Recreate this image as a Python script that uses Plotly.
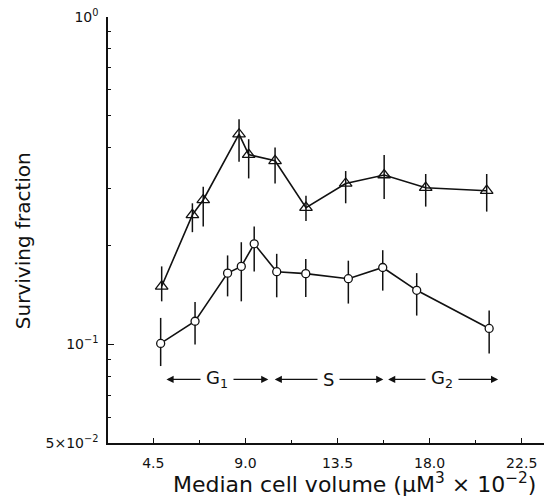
import numpy as np
import plotly.graph_objects as go

# Triangles (upper series)
tri_x = [4.91, 6.41, 6.94, 8.69, 9.16, 10.45, 11.96, 13.90, 15.78, 17.81, 20.79]
tri_y = [0.1505, 0.2487, 0.2762, 0.4386, 0.380, 0.3638, 0.2618, 0.3102, 0.3292, 0.3011, 0.2948]
tri_hi = [0.1731, 0.2698, 0.3032, 0.4873, 0.4234, 0.3994, 0.2847, 0.3385, 0.3786, 0.3315, 0.3315]
tri_lo = [0.1354, 0.2202, 0.2291, 0.3613, 0.3214, 0.3102, 0.2384, 0.2698, 0.2781, 0.2636, 0.2545]

# Circles (lower series)
cir_x = [4.86, 6.54, 8.13, 8.80, 9.43, 10.53, 11.95, 14.03, 15.71, 17.37, 20.91]
cir_y = [0.1007, 0.1177, 0.1651, 0.1731, 0.2029, 0.1668, 0.1645, 0.1588, 0.1718, 0.1463, 0.1119]
cir_hi = [0.1205, 0.1348, 0.1870, 0.2052, 0.2291, 0.1891, 0.1822, 0.1802, 0.1940, 0.1651, 0.1269]
cir_lo = [0.0859, 0.1000, 0.1402, 0.1354, 0.1671, 0.1393, 0.1396, 0.1333, 0.1460, 0.1225, 0.0939]

# Cell-cycle phases: label, start, end (x units)
phase_labels = ["G<sub>1</sub>", "S", "G<sub>2</sub>"]
phase_start = [5.07, 10.36, 15.90]
phase_end = [10.12, 15.74, 21.35]
phase_y = 0.0782

x_tickvals = [4.5, 9.0, 13.5, 18.0, 22.5]
x_ticktext = ["4.5", "9.0", "13.5", "18.0", "22.5"]
x_minor = [6.75, 11.25, 15.75, 20.25]
y_tickvals = [0.05, 0.1, 1.0]
y_ticktext = ["5×10<sup>−2</sup>", "10<sup>−1</sup>", "10<sup>0</sup>"]
y_minor = [0.06, 0.07, 0.08, 0.09, 0.2, 0.3, 0.4, 0.5, 0.6, 0.7, 0.8, 0.9]

FONT = "DejaVu Sans"
INK = "#111111"

def err(vals, hi, lo):
    return dict(type="data", symmetric=False,
                array=[h - v for h, v in zip(hi, vals)],
                arrayminus=[v - l for v, l in zip(vals, lo)],
                color=INK, thickness=1.5, width=0)

fig = go.Figure()
fig.add_trace(go.Scatter(
    x=tri_x, y=tri_y, mode="lines+markers",
    line=dict(color=INK, width=1.6),
    marker=dict(symbol="triangle-up-open", size=11, color=INK, line=dict(width=1.3, color=INK)),
    error_y=err(tri_y, tri_hi, tri_lo), showlegend=False))
fig.add_trace(go.Scatter(
    x=cir_x, y=cir_y, mode="lines+markers",
    line=dict(color=INK, width=1.6),
    marker=dict(symbol="circle", size=8, color="white", line=dict(width=1.3, color=INK)),
    error_y=err(cir_y, cir_hi, cir_lo), showlegend=False))

annotations = []
ly = np.log10(phase_y)
for lab, s, e in zip(phase_labels, phase_start, phase_end):
    annotations.append(dict(x=e, y=ly, ax=s, ay=ly, xref="x", yref="y", axref="x", ayref="y",
                            text="", showarrow=True, arrowhead=2, arrowside="end+start",
                            arrowsize=1.1, arrowwidth=1.3, arrowcolor=INK, standoff=0, startstandoff=0))
    annotations.append(dict(x=(s + e) / 2, y=ly, xref="x", yref="y", text=lab, showarrow=False,
                            xanchor="center", yanchor="middle",
                            bgcolor="white", borderpad=5, font=dict(family=FONT, size=18, color=INK)))

annotations.append(dict(x=-0.193, y=0.474, xref="paper", yref="paper", text="Surviving fraction",
                        xanchor="center", yanchor="middle",
                        textangle=-90, showarrow=False, font=dict(family=FONT, size=20, color=INK)))
annotations.append(dict(x=0.561, y=-0.094, xref="paper", yref="paper",
                        xanchor="center", yanchor="middle",
                        text="Median cell volume (μM<sup>3</sup> × 10<sup>−2</sup>)",
                        showarrow=False, font=dict(family=FONT, size=22, color=INK)))

fig.update_layout(
    width=552, height=502,
    margin=dict(l=100, r=12, t=9, b=67, autoexpand=False),
    paper_bgcolor="white", plot_bgcolor="white",
    font=dict(family=FONT, color=INK),
    annotations=annotations,
    xaxis=dict(range=[2.287, 23.785], showgrid=False, zeroline=False, automargin=False,
               showline=True, linewidth=1.5, linecolor=INK,
               ticks="inside", ticklen=5, tickwidth=1.2, tickcolor=INK,
               tickvals=x_tickvals, ticktext=x_ticktext, ticklabelstandoff=6,
               ticklabeloverflow="allow",
               tickfont=dict(family=FONT, size=14, color=INK),
               minor=dict(tickvals=x_minor, ticks="inside", ticklen=3, tickwidth=1, tickcolor=INK)),
    yaxis=dict(type="log", range=[np.log10(0.05), 0], showgrid=False, zeroline=False, automargin=False,
               showline=True, linewidth=1.5, linecolor=INK,
               ticks="inside", ticklen=6, tickwidth=1.2, tickcolor=INK,
               tickvals=y_tickvals, ticktext=y_ticktext, ticklabelstandoff=5,
               ticklabeloverflow="allow",
               tickfont=dict(family=FONT, size=14, color=INK),
               minor=dict(tickvals=y_minor, ticks="inside", ticklen=3, tickwidth=1, tickcolor=INK)),
)

fig.write_html("out.html")
